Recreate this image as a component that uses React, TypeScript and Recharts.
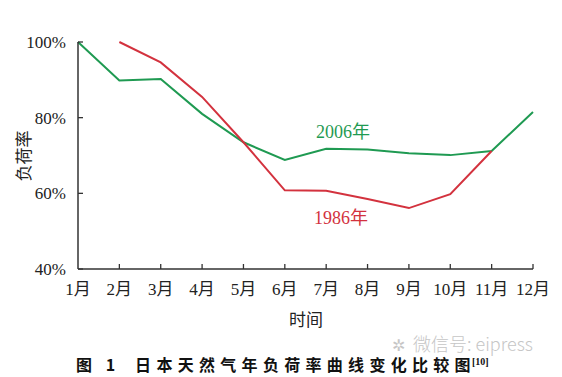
import React from 'react';
import { LineChart, Line, XAxis, YAxis } from 'recharts';

const MONTHS = ['1月', '2月', '3月', '4月', '5月', '6月', '7月', '8月', '9月', '10月', '11月', '12月'];
const LOAD_2006 = [100, 89.8, 90.2, 81, 73.5, 68.8, 71.8, 71.6, 70.6, 70.1, 71.2, 81.5];
const LOAD_1986 = [null, 100, 94.6, 85.5, 73.5, 60.8, 60.7, 58.5, 56.1, 59.8, 71.2, null];
const Y_TICKS = [40, 60, 80, 100];

const GREEN = '#1f9a52';
const RED = '#d3323e';
const AXIS = '#333';
const SERIF = '"Liberation Serif", "Noto Sans CJK SC", serif';

const data = MONTHS.map((m, i) => ({ month: m, y2006: LOAD_2006[i], y1986: LOAD_1986[i] }));

const YTick = (props: any) => {
  const { x, y, payload } = props;
  return (
    <g>
      <line x1={x + 12} x2={x + 17} y1={y} y2={y} stroke={AXIS} strokeWidth={1.3} />
      <text x={x} y={y} dy="0.35em" textAnchor="end" fontSize={17} fill="#222" fontFamily={SERIF}>
        {payload.value}%
      </text>
    </g>
  );
};

const XTick = (props: any) => {
  const { x, y, payload, index } = props;
  return (
    <g>
      {index > 0 && <line x1={x} x2={x} y1={y - 14} y2={y - 19} stroke={AXIS} strokeWidth={1.3} />}
      <text x={x} y={y} dy="0.71em" textAnchor="middle" fontSize={17} fill="#222" fontFamily={SERIF}>
        {payload.value}
      </text>
    </g>
  );
};

export default function App() {
  return (
    <div style={{ position: 'absolute', left: 0, top: 0, width: 562, height: 377, background: '#fff', overflow: 'hidden' }}>
      <LineChart width={562} height={377} data={data} margin={{ top: 42, right: 29, left: 18, bottom: 78 }}>
        <XAxis
          dataKey="month"
          height={30}
          tickSize={0}
          tickMargin={14}
          tick={<XTick />}
          stroke={AXIS}
          strokeWidth={1.5}
          interval={0}
        />
        <YAxis
          width={60}
          domain={[40, 100]}
          ticks={Y_TICKS}
          tickSize={0}
          tickMargin={12}
          tick={<YTick />}
          stroke={AXIS}
          strokeWidth={1.5}
        />
        <Line type="linear" dataKey="y2006" stroke={GREEN} strokeWidth={2} dot={false} isAnimationActive={false} />
        <Line type="linear" dataKey="y1986" stroke={RED} strokeWidth={2} dot={false} isAnimationActive={false} />
      </LineChart>
      <div style={{ position: 'absolute', left: 316, top: 117, fontSize: 18, color: GREEN, fontFamily: SERIF }}>2006年</div>
      <div style={{ position: 'absolute', left: 314, top: 203, fontSize: 18, color: RED, fontFamily: SERIF }}>1986年</div>
      <div
        style={{
          position: 'absolute', left: 22, top: 156, transform: 'translate(-50%, -50%) rotate(-90deg)',
          fontSize: 17, color: '#222', fontFamily: SERIF, whiteSpace: 'nowrap',
        }}
      >
        负荷率
      </div>
      <div style={{ position: 'absolute', left: 306, top: 318, transform: 'translate(-50%, -50%)', fontSize: 17, color: '#222', fontFamily: SERIF }}>
        时间
      </div>
      <div style={{ position: 'absolute', left: 392, top: 331, lineHeight: '24px', fontSize: 18, color: '#c6c6c6', fontFamily: '"Noto Sans CJK SC", sans-serif', fontWeight: 300, whiteSpace: 'nowrap' }}>
        <span style={{ fontSize: 16, marginRight: 8 }}>✲</span>微信号: eipress
      </div>
      <div
        style={{
          position: 'absolute', left: 76, top: 355, fontSize: 16, fontWeight: 700, color: '#111',
          fontFamily: '"Noto Sans CJK SC", sans-serif', whiteSpace: 'nowrap', lineHeight: '18px',
        }}
      >
        <span style={{ letterSpacing: 5 }}>图 1</span>
        <span style={{ display: 'inline-block', width: 15 }} />
        <span style={{ letterSpacing: 5.3 }}>日本天然气年负荷率曲线变化比较图</span>
        <sup style={{ fontSize: 10, fontFamily: SERIF, marginLeft: -4, lineHeight: 0 }}>[10]</sup>
      </div>
    </div>
  );
}
